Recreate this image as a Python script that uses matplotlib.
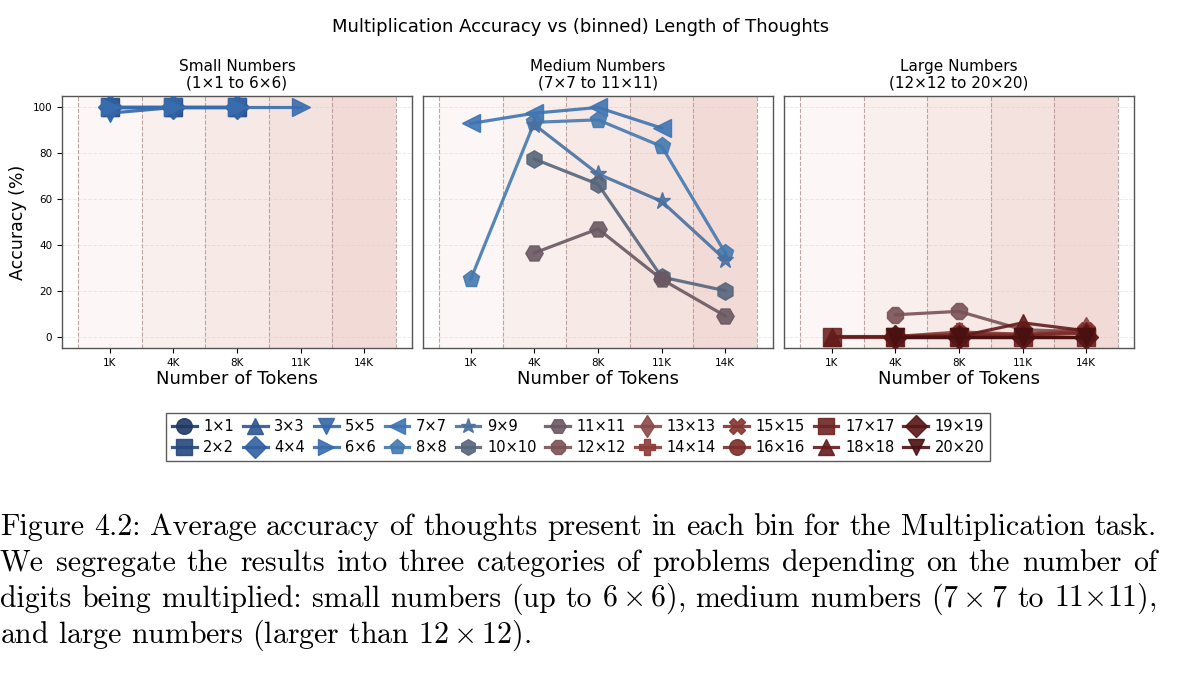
import numpy as np
import matplotlib
matplotlib.use("Agg")
from matplotlib import pyplot as plt

nan = np.nan

bins = ['1K', '4K', '8K', '11K', '14K']

names = ['1×1', '2×2', '3×3', '4×4', '5×5', '6×6', '7×7', '8×8', '9×9', '10×10',
         '11×11', '12×12', '13×13', '14×14', '15×15', '16×16', '17×17', '18×18',
         '19×19', '20×20']

# accuracy (%) per token bin, NaN = no thoughts in that bin
acc = {
    '1×1':   [100, 100, nan, nan, nan],
    '2×2':   [100, 100, 100, nan, nan],
    '3×3':   [100, 100, 100, nan, nan],
    '4×4':   [100, 100, 100, nan, nan],
    '5×5':   [97.5, 100, 100, nan, nan],
    '6×6':   [100, 100, 100, 100, nan],
    '7×7':   [93, 97.5, 100, 91, nan],
    '8×8':   [25, 93.5, 94.6, 83, 36.5],
    '9×9':   [nan, 92.5, 71, 59, 33.5],
    '10×10': [nan, 77.5, 66.5, 26, 20],
    '11×11': [nan, 36.5, 47, 25, 9],
    '12×12': [nan, 9.5, 11, 3, 2],
    '13×13': [nan, 0, 1, 1, 3.5],
    '14×14': [nan, 0, 2, 1, 2],
    '15×15': [nan, 0, 1, 0.5, 2.5],
    '16×16': [nan, 0, 0.5, 0.5, 1.5],
    '17×17': [0, 0, 0, 0, 0],
    '18×18': [0, 0, 0, 6, 2.5],
    '19×19': [nan, 0, 0, 0, 0],
    '20×20': [nan, 0, 0, 0, 0],
}

colors = ['#1f3864', '#24487e', '#2d5592', '#3160a0', '#3466a8', '#386daf',
          '#3e74b3', '#4479b0', '#4a70a0', '#56657a', '#6a5862', '#7a5255',
          '#8a4a48', '#8c3c38', '#853430', '#7b2c28', '#6e2422', '#621c1a',
          '#581616', '#4a1010']
markers = ['o', 's', '^', 'D', 'v', '>', '<', 'p', '*', 'h', 'H', '8', 'd', 'P', 'X',
           'o', 's', '^', 'D', 'v']

groups = [
    ('Small Numbers\n(1×1 to 6×6)', names[0:6]),
    ('Medium Numbers\n(7×7 to 11×11)', names[6:11]),
    ('Large Numbers\n(12×12 to 20×20)', names[11:20]),
]

caption = [
    'Figure 4.2: Average accuracy of thoughts present in each bin for the Multiplication task.',
    'We segregate the results into three categories of problems depending on the number of',
    r'digits being multiplied: small numbers (up to $6\times6$), medium numbers ($7\times7$ to $11{\times}11$),',
    r'and large numbers (larger than $12\times12$).',
]

plt.rcParams['mathtext.fontset'] = 'cm'
fig = plt.figure(figsize=(12, 7), dpi=100)
lefts = [62, 423, 784]
axes = []
x = np.arange(len(bins))
handles = {}
for i, (title, grp) in enumerate(groups):
    ax = fig.add_axes([lefts[i] / 1200, 1 - 348 / 700, 350 / 1200, 252 / 700])
    axes.append(ax)
    for b in range(len(bins)):
        ax.axvspan(b - 0.5, b + 0.5, color='#c86450', alpha=0.05 + 0.045 * b, lw=0, zorder=0)
    for v in np.arange(-0.5, len(bins), 1.0):
        ax.axvline(v, color='#b09090', ls='--', lw=0.8, alpha=0.8, zorder=1)
    ax.grid(axis='y', ls='--', color='#cccccc', alpha=0.4, lw=0.7)
    for n in grp:
        k = names.index(n)
        h, = ax.plot(x, acc[n], color=colors[k], marker=markers[k], markersize=12.5,
                     lw=2.3, alpha=0.9, label=n, zorder=3)
        handles[n] = h
    ax.set_xlim(-0.75, 4.75)
    ax.set_ylim(-5, 105)
    ax.set_xticks(x)
    ax.set_xticklabels(bins, fontsize=7.5)
    ax.set_yticks([0, 20, 40, 60, 80, 100])
    ax.tick_params(axis='y', labelsize=7.5)
    if i > 0:
        ax.tick_params(axis='y', labelleft=False, length=0)
    ax.set_xlabel('Number of Tokens', fontsize=13, labelpad=2)
    ax.set_title(title, fontsize=11, pad=6, linespacing=1.1)
    for s in ax.spines.values():
        s.set_color('#555555')
        s.set_linewidth(1.0)
axes[0].set_ylabel('Accuracy (%)', fontsize=12.5)

fig.suptitle('Multiplication Accuracy vs (binned) Length of Thoughts', fontsize=13,
             x=0.484, y=0.975)

leg = fig.legend([handles[n] for n in names], names, loc='upper center',
                 bbox_to_anchor=(0.4817, 1 - 406 / 700), ncol=10, fontsize=10.5,
                 frameon=True, fancybox=False, edgecolor='#333333', markerscale=0.9,
                 handlelength=1.7, handletextpad=0.45, columnspacing=0.6,
                 borderpad=0.4, labelspacing=0.4)
leg.get_frame().set_linewidth(1.0)

# caption, justified like the LaTeX paragraph (last line ragged)
renderer = fig.canvas.get_renderer()
x0, x1 = 0.0, 1157.0
for j, line in enumerate(caption):
    y = 1 - (527 + 36 * j) / 700
    words = line.split(' ')
    if j == len(caption) - 1:
        fig.text(x0 / 1200, y, line, family='cmr10', fontsize=21.5, ha='left', va='center')
        continue
    texts = [fig.text(0, y, w, family='cmr10', fontsize=21.5, ha='left', va='center')
             for w in words]
    widths = [t.get_window_extent(renderer).width for t in texts]
    gap = (x1 - x0 - sum(widths)) / (len(words) - 1)
    pos = x0
    for t, w in zip(texts, widths):
        t.set_x(pos / 1200)
        pos += w + gap

fig.savefig('out.png', dpi=100)
